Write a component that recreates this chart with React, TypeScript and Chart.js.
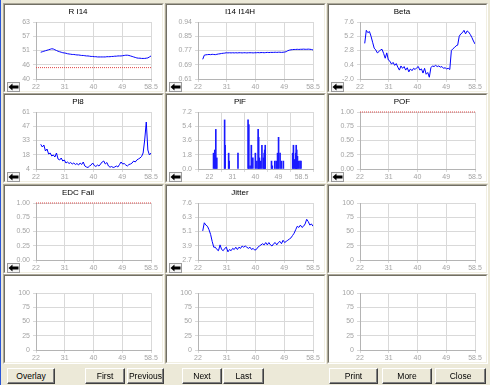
import React, { useEffect, useRef } from "react";
import { Chart, registerables } from "chart.js";

Chart.register(...registerables);

const FONT = '"Liberation Sans", Arial, sans-serif';
Chart.defaults.font.family = FONT;

// ---- shared x axis ----
const xMin = 22;
const xMax = 58.5;
const xTickLabels = ["22", "31", "40", "49", "58.5"];
const temps = [
  23.5, 24, 24.5, 25, 25.5, 26, 26.5, 27, 27.5, 28,
  28.5, 29, 29.5, 30, 30.5, 31, 31.5, 32, 32.5, 33,
  33.5, 34, 34.5, 35, 35.5, 36, 36.5, 37, 37.5, 38,
  38.5, 39, 39.5, 40, 40.5, 41, 41.5, 42, 42.5, 43,
  43.5, 44, 44.5, 45, 45.5, 46, 46.5, 47, 47.5, 48,
  48.5, 49, 49.5, 50, 50.5, 51, 51.5, 52, 52.5, 53,
  53.5, 54, 54.5, 55, 55.5, 56, 56.5, 57, 57.5, 58,
  58.5,
];

// ---- R I14 ----
const rI14Ticks = ["40", "46", "51", "57", "63"];
const rI14Range = [40, 63];
const rI14Limit = 44.6;
const rI14 = [
  50.8, 51.0, 51.2, 51.4, 51.6, 51.8, 52.0, 52.2, 52.1, 51.8,
  51.5, 51.2, 51.0, 50.8, 50.6, 50.5, 50.4, 50.2, 50.1, 50.0,
  49.9, 49.9, 49.8, 49.7, 49.7, 49.6, 49.5, 49.5, 49.4, 49.3,
  49.3, 49.2, 49.1, 49.1, 49.0, 49.0, 48.9, 48.9, 48.9, 48.9,
  48.9, 48.9, 49.0, 49.0, 49.0, 49.1, 49.1, 49.2, 49.2, 49.3,
  49.3, 49.3, 49.4, 49.5, 49.6, 49.6, 49.5, 49.3, 49.1, 48.9,
  48.7, 48.5, 48.4, 48.4, 48.3, 48.3, 48.3, 48.4, 48.5, 48.9,
  49.3,
];

// ---- I14 I14H ----
const i14Ticks = ["0.61", "0.69", "0.77", "0.85", "0.94"];
const i14Range = [0.61, 0.94];
const i14 = [
  0.724, 0.748, 0.750, 0.751, 0.752, 0.751, 0.753, 0.752, 0.751, 0.753,
  0.755, 0.756, 0.758, 0.759, 0.760, 0.762, 0.761, 0.762, 0.761, 0.762,
  0.761, 0.762, 0.761, 0.762, 0.762, 0.761, 0.762, 0.762, 0.761, 0.762,
  0.762, 0.762, 0.761, 0.762, 0.762, 0.763, 0.762, 0.763, 0.763, 0.762,
  0.763, 0.764, 0.763, 0.764, 0.764, 0.764, 0.765, 0.764, 0.765, 0.765,
  0.764, 0.765, 0.766, 0.768, 0.774, 0.777, 0.779, 0.780, 0.781, 0.781,
  0.782, 0.781, 0.782, 0.782, 0.783, 0.782, 0.782, 0.783, 0.782, 0.781,
  0.778,
];

// ---- Beta ----
const betaTicks = ["-2.0", "0.4", "2.8", "5.2", "7.6"];
const betaRange = [-2, 7.6];
const beta = [
  4.0, 6.2, 5.8, 6.0, 5.2, 4.2, 3.2, 2.9, 2.4, 2.6,
  2.9, 3.0, 2.3, 1.5, 2.4, 1.2, 1.0, 0.5, 0.8, 0.3,
  0.6, 0.0, -0.5, 0.2, -0.2, 0.1, -0.5, -0.1, -0.8, -0.3,
  -0.6, -0.2, -0.4, -0.1, 0.1, -0.5, -0.3, -1.0, -0.2, -1.2,
  -0.9, -1.7, -0.1, 0.2, 0.1, 0.3, 0.1, 0.2, 0.0, 0.1,
  -0.2, -0.1, -0.3, -0.2, -0.4, 2.8, 3.1, 3.3, 3.6, 3.7,
  5.2, 5.6, 5.8, 6.2, 5.6, 6.1, 5.9, 5.5, 5.0, 4.4,
  3.9,
];

// ---- Pl8 ----
const pl8Ticks = ["4", "18", "33", "47", "61"];
const pl8Range = [4, 61];
const pl8 = [
  28.7, 26, 28, 22, 24, 19, 20, 17, 18, 16,
  20, 14, 13, 15, 12, 13, 10, 11, 9.5, 10.5,
  9, 10, 8.5, 9.5, 8, 10, 8.5, 11, 7, 6,
  5.5, 7, 8, 10, 7.5, 6.5, 8, 7, 9, 11,
  12, 9, 10.5, 7, 5.8, 6.5, 5.5, 6, 7, 6,
  8.5, 11, 9, 9.5, 8, 7, 8.5, 9, 10, 12,
  11, 13, 14, 15, 16.5, 20, 33, 51, 23, 18,
  20,
];

// ---- PlF (spikes) ----
const plfTicks = ["0.0", "1.8", "3.6", "5.4", "7.2"];
const plfRange = [0, 7.2];
const plfX = [
  23.6, 24.1, 24.5, 24.9, 28.0, 28.2, 29.6, 29.8, 33.3, 37.3,
  37.6, 38.1, 38.6, 39.2, 40.2, 40.8, 41.3, 41.5, 41.8, 42.3,
  42.8, 43.4, 43.7, 43.9, 44.1, 46.6, 46.9, 47.9, 48.5, 49.0,
  49.4, 50.0, 50.5, 51.3, 55.0, 55.3, 55.8, 56.2, 56.4, 56.6,
  56.9, 57.4, 57.9, 58.3,
];
const plfY = [
  2.0, 2.4, 5.0, 1.4, 6.2, 3.0, 2.0, 1.0, 2.0, 6.2,
  5.6, 0.4, 3.0, 1.4, 2.0, 1.0, 5.0, 4.0, 1.4, 1.0,
  3.0, 1.4, 2.0, 2.4, 3.0, 1.0, 0.4, 1.0, 1.0, 2.0,
  4.0, 2.0, 1.0, 1.0, 2.0, 3.0, 1.2, 2.0, 3.0, 2.4,
  1.6, 1.0, 1.0, 1.0,
];

// ---- POF / EDC Fail ----
const flagTicks = ["0.00", "0.25", "0.50", "0.75", "1.00"];
const flagRange = [0, 1];
const pofLimit = 1.0;
const edcLimit = 1.0;

// ---- Jitter ----
const jitterTicks = ["2.7", "3.9", "5.1", "6.3", "7.6"];
const jitterRange = [2.7, 7.6];
const jitter = [
  5.2, 5.9, 5.7, 5.6, 5.3, 4.9, 4.3, 3.8, 3.8, 3.6,
  3.5, 4.0, 3.6, 3.5, 3.7, 3.8, 3.4, 3.6, 3.5, 3.7,
  3.6, 3.8, 3.6, 3.8, 3.7, 3.9, 3.8, 3.9, 3.8, 3.7,
  3.8, 3.6, 3.7, 3.55, 3.6, 3.8, 3.9, 4.0, 4.1, 4.0,
  4.2, 4.0, 4.2, 4.0, 3.9, 4.1, 4.2, 4.0, 4.2, 4.3,
  4.1, 4.4, 4.2, 4.3, 4.4, 4.5, 4.6, 4.8, 5.0, 5.3,
  5.6, 5.5, 5.7, 5.5, 5.6, 5.8, 6.2, 6.0, 5.7, 5.8,
  5.6,
];

// ---- empty panels ----
const emptyTicks = ["0", "25", "50", "75", "100"];
const emptyRange = [0, 100];

// ---- buttons ----
const buttonLabels = ["Overlay", "First", "Previous", "Next", "Last", "Print", "More", "Close"];
const buttonX = [7, 85, 127, 182, 223, 329, 382, 435];
const buttonW = [48, 40, 37, 40, 41, 49, 50, 51];

// ---------------------------------------------------------------
const BLUE = "#0000ff";
const RED = "#e04848";
const GRID = "#d9d9d9";
const AXIS = "#b4b4b4";
const TICK = "#a4a4a4";

const lineSet = (vals: number[]) => ({
  data: temps.map((x, i) => ({ x, y: vals[i] })),
  borderColor: BLUE,
  borderWidth: 1,
  pointRadius: 0,
  tension: 0,
  fill: false,
});

const limitSet = (v: number) => ({
  data: [
    { x: xMin, y: v },
    { x: xMax, y: v },
  ],
  borderColor: RED,
  borderWidth: 1,
  borderDash: [1, 1],
  pointRadius: 0,
  fill: false,
  clip: false as any,
});

const barSet = () => ({
  type: "bar" as const,
  data: plfX.map((x, i) => ({ x, y: plfY[i] })),
  backgroundColor: "#1a1aff",
  borderWidth: 0,
  barThickness: 1,
});

type Spec = {
  title: string;
  ticks: string[];
  range: number[];
  datasets: any[];
  arrow: boolean;
};

const specs: Spec[] = [
  { title: "R I14", ticks: rI14Ticks, range: rI14Range, datasets: [lineSet(rI14), limitSet(rI14Limit)], arrow: true },
  { title: "I14 I14H", ticks: i14Ticks, range: i14Range, datasets: [lineSet(i14)], arrow: true },
  { title: "Beta", ticks: betaTicks, range: betaRange, datasets: [lineSet(beta)], arrow: true },
  { title: "Pl8", ticks: pl8Ticks, range: pl8Range, datasets: [lineSet(pl8)], arrow: true },
  { title: "PlF", ticks: plfTicks, range: plfRange, datasets: [barSet()], arrow: true },
  { title: "POF", ticks: flagTicks, range: flagRange, datasets: [limitSet(pofLimit)], arrow: true },
  { title: "EDC Fail", ticks: flagTicks, range: flagRange, datasets: [limitSet(edcLimit)], arrow: true },
  { title: "Jitter", ticks: jitterTicks, range: jitterRange, datasets: [lineSet(jitter)], arrow: true },
  { title: "", ticks: emptyTicks, range: emptyRange, datasets: [], arrow: false },
  { title: "", ticks: emptyTicks, range: emptyRange, datasets: [], arrow: false },
  { title: "", ticks: emptyTicks, range: emptyRange, datasets: [], arrow: false },
  { title: "", ticks: emptyTicks, range: emptyRange, datasets: [], arrow: false },
];

const colLeft = [3, 165, 327];
const rowTop = [3, 93, 184, 274];
const PANEL_W = 161;
const PANEL_H = 90;
const INNER_W = PANEL_W - 4;
const INNER_H = PANEL_H - 4;

function ChartPanel({ spec, left, top }: { spec: Spec; left: number; top: number }) {
  const ref = useRef<HTMLCanvasElement>(null);
  useEffect(() => {
    const canvas = ref.current;
    if (!canvas) return;
    const yMin = spec.range[0];
    const yMax = spec.range[1];
    const tickFont = { size: 7, family: FONT };
    const chart = new Chart(canvas, {
      type: "line",
      data: { datasets: spec.datasets },
      options: {
        animation: false,
        responsive: false,
        maintainAspectRatio: false,
        events: [],
        layout: { padding: { left: 0, right: 11, top: 0, bottom: 0 } },
        plugins: {
          legend: { display: false },
          tooltip: { enabled: false },
          title: {
            display: true,
            text: spec.title,
            color: "#000",
            font: { size: 8, family: FONT, weight: "normal" },
            padding: { top: 2, bottom: 5.4 },
          },
        },
        scales: {
          x: {
            type: "linear",
            min: xMin,
            max: xMax,
            afterBuildTicks: (s: any) => {
              s.ticks = xTickLabels.map((_, i) => ({ value: xMin + (i * (xMax - xMin)) / 4 }));
            },
            afterFit: (s: any) => {
              s.height = 12;
              s.paddingLeft = 0;
              s.paddingRight = 0;
            },
            ticks: {
              autoSkip: false,
              maxRotation: 0,
              padding: 1,
              color: TICK,
              font: tickFont,
              callback: (_v: any, i: number) => xTickLabels[i],
            },
            grid: { color: GRID, tickLength: 3 },
            border: { color: AXIS },
          },
          y: {
            type: "linear",
            min: yMin,
            max: yMax,
            afterBuildTicks: (s: any) => {
              s.ticks = spec.ticks.map((_, i) => ({ value: yMin + (i * (yMax - yMin)) / 4 }));
            },
            afterFit: (s: any) => {
              s.width = 31;
              s.paddingTop = 0;
              s.paddingBottom = 0;
            },
            ticks: {
              autoSkip: false,
              padding: 3,
              color: TICK,
              font: tickFont,
              callback: (_v: any, i: number) => spec.ticks[i],
            },
            grid: { color: GRID, tickLength: 3 },
            border: { color: AXIS },
          },
        },
      } as any,
    });
    return () => chart.destroy();
  }, []);

  return (
    <div
      style={{
        position: "absolute",
        left,
        top,
        width: PANEL_W - 2,
        height: PANEL_H - 2,
        borderStyle: "solid",
        borderWidth: 1,
        borderColor: "#aca899 #ffffff #ffffff #aca899",
      }}
    >
      <div
        style={{
          position: "absolute",
          left: 0,
          top: 0,
          width: INNER_W,
          height: INNER_H,
          background: "#fff",
          borderStyle: "solid",
          borderWidth: 1,
          borderColor: "#716f64 #f1efe2 #f1efe2 #716f64",
        }}
      >
        <canvas ref={ref} width={INNER_W} height={INNER_H} style={{ display: "block" }} />
        {spec.arrow && (
          <svg
            width={13}
            height={10}
            style={{ position: "absolute", left: 2, top: 77 }}
          >
            <rect x={0.5} y={0.5} width={12} height={9} fill="#f4f4f4" stroke="#9a9a9a" />
            <polygon points="1.5,5 5.5,1.5 5.5,3.5 11.5,3.5 11.5,6.5 5.5,6.5 5.5,8.5" fill="#000" />
          </svg>
        )}
      </div>
    </div>
  );
}

export default function App() {
  return (
    <div
      style={{
        position: "fixed",
        left: 0,
        top: 0,
        width: 490,
        height: 385,
        background: "#ece9d8",
        overflow: "hidden",
        fontFamily: FONT,
      }}
    >
      <div style={{ position: "absolute", left: 0, top: 0, width: 1, height: 385, background: "#2a56d8" }} />
      {specs.map((s, i) => (
        <ChartPanel key={i} spec={s} left={colLeft[i % 3]} top={rowTop[Math.floor(i / 3)]} />
      ))}
      {buttonLabels.map((b, i) => (
        <div
          key={b}
          style={{
            position: "absolute",
            left: buttonX[i],
            top: 368,
            width: buttonW[i] - 2,
            height: 14,
            background: "#ece9d8",
            borderStyle: "solid",
            borderWidth: 1,
            borderColor: "#ffffff #404040 #404040 #ffffff",
            boxShadow: "inset -1px -1px #808080",
            fontSize: 8.5,
            lineHeight: "14px",
            textAlign: "center",
            color: "#000",
            whiteSpace: "nowrap",
          }}
        >
          {b}
        </div>
      ))}
    </div>
  );
}
